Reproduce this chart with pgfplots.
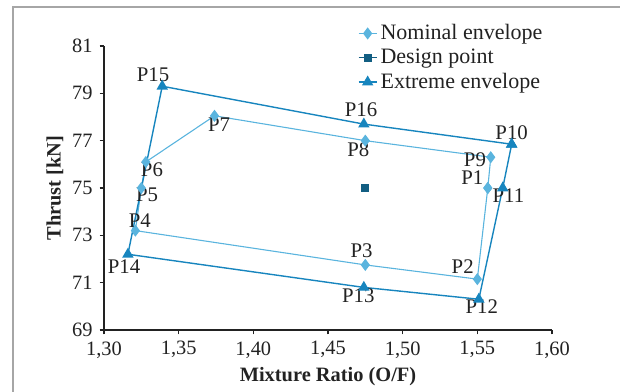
\documentclass[border=0pt]{standalone}
\usepackage{fontspec}
\setmainfont{Liberation Serif}
\usepackage{pgfplots}
\pgfplotsset{compat=1.18}
\definecolor{nomc}{HTML}{5AB4DE}
\definecolor{extc}{HTML}{1785BE}
\definecolor{desc}{HTML}{125E82}
\definecolor{txtc}{HTML}{222222}
\begin{document}
\begin{tikzpicture}
\useasboundingbox (-52pt,-30.5pt) rectangle (258pt,165pt);
\draw[color=gray!70, line width=0.7pt] (-45.5pt,-40pt) -- (-45.5pt,161.5pt) -- (270pt,161.5pt);
\begin{axis}[
  name=ax,
  at={(0,0)}, anchor=south west,
  scale only axis,
  width=224pt, height=142pt,
  xmin=1.3, xmax=1.6, ymin=69, ymax=81,
  enlargelimits=false,
  xtick={1.30,1.35,1.40,1.45,1.50,1.55,1.60},
  ytick={69,71,73,75,77,79,81},
  axis lines=left,
  axis line style={-, line width=0.7pt, color=txtc},
  tick style={line width=0.6pt, color=txtc},
  tick align=outside,
  major tick length=2.2pt,
  clip=false,
  font=\fontsize{10.2}{12}\selectfont,
  tick label style={font=\fontsize{10.2}{12}\selectfont, text=txtc},
  xticklabel style={/pgf/number format/.cd, fixed, fixed zerofill, precision=2, use comma, assume math mode=true},
  yticklabel style={/pgf/number format/assume math mode=true},
  xlabel={\textbf{Mixture Ratio (O/F)}},
  ylabel={\textbf{Thrust [kN]}},
  xlabel style={at={(axis description cs:0.5,0)}, anchor=center, yshift=-23.3pt, text=txtc},
  ylabel style={at={(axis description cs:0,0.5)}, anchor=center, rotate=0, yshift=24.5pt, text=txtc},
  legend style={at={(axis description cs:0.566,1.089)}, anchor=north west, draw=none, fill=none,
    font=\fontsize{11}{12}\selectfont, inner sep=0pt, row sep=0pt,
    nodes={inner sep=1.6pt, text=txtc}},
  legend cell align=left,
  legend image code/.code={\draw[mark repeat=2,mark phase=2] plot coordinates {(0pt,0pt)(4.5pt,0pt)(9pt,0pt)};},
]
\addplot[color=nomc, line width=0.55pt, mark=diamond*, mark size=2.6pt, mark options={fill=nomc, draw=nomc}]
coordinates {
(1.557,75.0) (1.550,71.15) (1.475,71.75) (1.321,73.2) (1.325,75.0) (1.328,76.1) (1.374,78.05) (1.475,77.0) (1.559,76.3) (1.557,75.0)
};
\addlegendentry{Nominal envelope}
\addplot[color=desc, line width=0.7pt, mark=square*, mark size=1.6pt, mark options={fill=desc, draw=desc}]
coordinates {(1.475,75.0)};
\addlegendentry{Design point}
\addplot[color=extc, line width=0.7pt, mark=triangle*, mark size=2.6pt, mark options={fill=extc, draw=extc}]
coordinates {
(1.573,76.85) (1.567,75.0) (1.551,70.3) (1.474,70.8) (1.316,72.2) (1.339,79.3) (1.474,77.7) (1.573,76.85)
};
\addlegendentry{Extreme envelope}
\begin{scope}[every node/.style={font=\fontsize{10.4}{12}\selectfont, text=txtc, inner sep=0pt}]
\node at (axis cs:1.5466,75.42) {P1};
\node at (axis cs:1.5484,76.18) {P9};
\node at (axis cs:1.5402,71.68) {P2};
\node at (axis cs:1.4725,72.35) {P3};
\node at (axis cs:1.324,73.6) {P4};
\node at (axis cs:1.3288,74.7) {P5};
\node at (axis cs:1.3321,75.76) {P6};
\node at (axis cs:1.377,77.66) {P7};
\node at (axis cs:1.4703,76.63) {P8};
\node at (axis cs:1.573,77.35) {P10};
\node at (axis cs:1.5708,74.66) {P11};
\node at (axis cs:1.553,69.98) {P12};
\node at (axis cs:1.4703,70.44) {P13};
\node at (axis cs:1.3134,71.66) {P14};
\node at (axis cs:1.3328,79.77) {P15};
\node at (axis cs:1.4721,78.29) {P16};
\end{scope}
\end{axis}
\end{tikzpicture}
\end{document}
